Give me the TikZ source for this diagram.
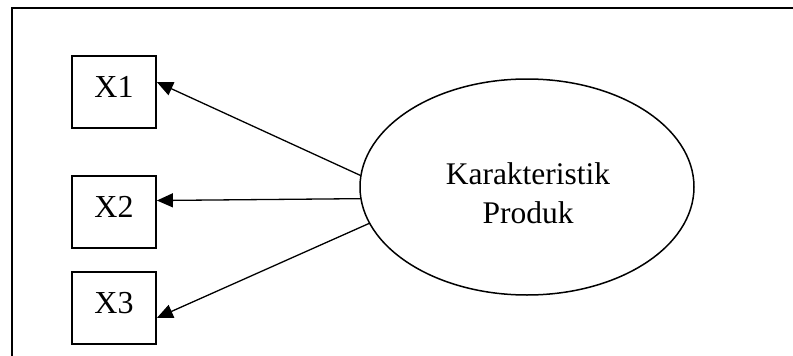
\documentclass[tikz,border=0pt]{standalone}
\usepackage{fontspec}
\setmainfont{Liberation Serif}
\usetikzlibrary{arrows.meta,shapes.geometric}

\tikzset{
  indicator/.style={draw, line width=1.8pt, minimum width=84pt, minimum height=72pt,
    inner sep=0pt, text height=21pt, text depth=10pt,
    font=\fontsize{32}{39}\selectfont},
  construct/.style={draw, ellipse, line width=1.5pt, minimum width=334pt,
    minimum height=216pt, inner sep=0pt},
  constructtext/.style={align=center, font=\fontsize{31.5}{39}\selectfont},
  loading/.style={line width=1.3pt, -{Triangle[length=16pt,width=14pt]}},
  frame/.style={line width=2pt}
}

\begin{document}
\begin{tikzpicture}[x=1pt,y=-1pt]
  \useasboundingbox (0,0) rectangle (793,356);

  % open frame: left and top sides
  \coordinate (fbl) at (12,360);
  \coordinate (ftl) at (12,7.5);
  \coordinate (ftr) at (797,7.5);
  \draw[frame] (fbl) -- (ftl) -- (ftr);

  % indicators
  \node[indicator] (x1) at (114,92)  {X1\hspace{6pt}};
  \node[indicator] (x2) at (114,212) {X2\hspace{6pt}};
  \node[indicator] (x3) at (114,308) {X3\hspace{6pt}};

  % latent construct
  \node[construct] (kp) at (527,187) {};
  \node[constructtext] (kptext) at (528,193) {Karakteristik\\Produk};

  % loadings
  \draw[loading] (kp.176.2) -- (x1.13.4);
  \draw[loading] (kp.184.5) -- (x2.15.9);
  \draw[loading] (kp.193.3) -- (x3.-13.4);
\end{tikzpicture}
\end{document}
